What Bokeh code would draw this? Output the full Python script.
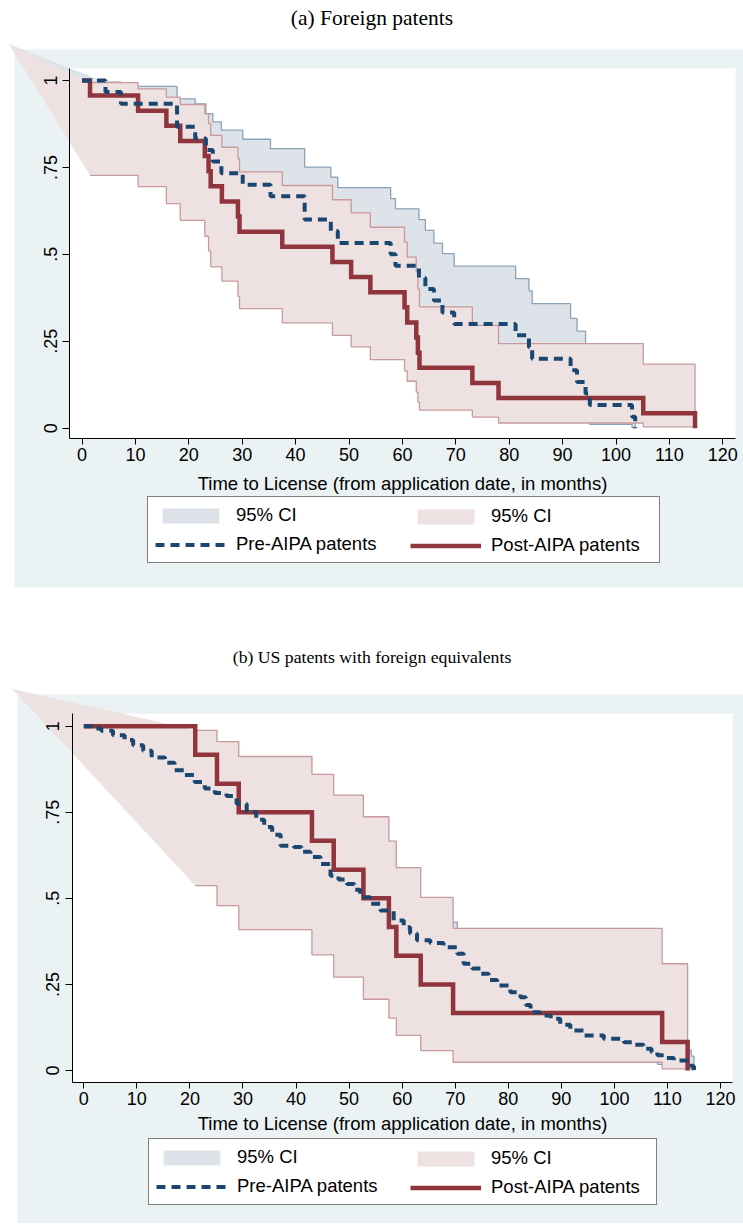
from bokeh.plotting import figure
from bokeh.models import Range1d, LinearAxis, FixedTicker, BoxAnnotation, Legend, LegendItem
from bokeh.layouts import column
from bokeh.embed import file_html
from bokeh.resources import INLINE

# ---------------- texts / ticks ----------------
PANEL_TITLES = ["(a) Foreign patents", "(b) US patents with foreign equivalents"]
X_LABEL = "Time to License (from application date, in months)"
X_TICKS = [0, 10, 20, 30, 40, 50, 60, 70, 80, 90, 100, 110, 120]
Y_TICKS = [0, 0.25, 0.5, 0.75, 1]
Y_TICK_LABELS = ["0", ".25", ".5", ".75", "1"]
LEGEND_LABELS = ["95% CI", "95% CI", "Pre-AIPA patents", "Post-AIPA patents"]

# ---------------- panel (a): foreign patents ----------------
a_pre_t = [0.0, 4.4, 7.3, 17.8, 21.2, 23.2, 24.5, 26.1, 30.1, 35.3, 41.7, 46.6, 47.9, 57.8, 58.7,
           63.1, 64.3, 65.9, 67.5, 69.7, 81.2, 83.7, 84.3, 91.5, 92.7, 94.3, 95.1, 103.0, 103.6]
a_pre_s = [1.0, 0.967, 0.933, 0.867, 0.833, 0.800, 0.767, 0.733, 0.700, 0.667, 0.600, 0.567, 0.533,
           0.500, 0.467, 0.433, 0.400, 0.367, 0.333, 0.300, 0.267, 0.233, 0.200, 0.167, 0.133, 0.100,
           0.067, 0.033, 0.000]
a_pre_hi = [0.995, 0.983, 0.947, 0.933, 0.905, 0.881, 0.857, 0.831, 0.804, 0.751, 0.722, 0.692, 0.660,
            0.631, 0.600, 0.569, 0.532, 0.502, 0.466, 0.430, 0.395, 0.358, 0.316, 0.279, 0.243, 0.210, 0.140]
a_pre_lo = [0.786, 0.759, 0.685, 0.645, 0.608, 0.571, 0.536, 0.503, 0.470, 0.406, 0.375, 0.344, 0.314,
            0.284, 0.255, 0.227, 0.199, 0.173, 0.147, 0.122, 0.099, 0.077, 0.056, 0.038, 0.022, 0.011, 0.002]
a_post_t = [0.0, 1.5, 10.5, 15.8, 18.4, 23.0, 23.7, 24.1, 26.2, 29.2, 29.5, 37.5, 46.9, 50.4, 54.0,
            60.4, 60.9, 62.6, 62.9, 63.2, 73.1, 78.0, 105.1, 114.8]
a_post_s = [1.0, 0.957, 0.913, 0.870, 0.826, 0.783, 0.739, 0.696, 0.652, 0.609, 0.565, 0.522, 0.478,
            0.435, 0.391, 0.348, 0.304, 0.261, 0.217, 0.174, 0.130, 0.087, 0.043, 0.000]
a_post_hi = [0.994, 0.976, 0.952, 0.931, 0.904, 0.876, 0.842, 0.808, 0.775, 0.737, 0.698, 0.657, 0.619,
             0.578, 0.535, 0.492, 0.450, 0.400, 0.349, 0.296, 0.243, 0.184]
a_post_lo = [0.727, 0.695, 0.646, 0.598, 0.552, 0.510, 0.464, 0.423, 0.379, 0.344, 0.303, 0.267, 0.234,
             0.197, 0.165, 0.135, 0.104, 0.075, 0.052, 0.032, 0.015, 0.004]
a_ci_origin = [-13.7, 1.105]   # where the (glitchy) CI areas start in the original

# ---------------- panel (b): US patents with foreign equivalents ----------------
b_pre_t = [0.0, 1.5, 3.3, 5.5, 7.7, 9.3, 11.2, 12.8, 15.3, 17.1, 19.0, 20.9, 22.8, 24.7, 26.9, 28.8,
           30.7, 32.5, 34.0, 35.5, 37.1, 39.6, 41.0, 42.7, 44.6, 46.5, 48.0, 49.6, 51.0, 52.1, 54.0,
           55.9, 58.4, 60.3, 61.5, 62.8, 65.3, 67.8, 70.4, 71.6, 73.2, 74.8, 76.3, 77.9, 80.4, 82.3,
           83.3, 84.2, 86.0, 88.0, 89.8, 91.7, 94.2, 98.0, 101.8, 103.5, 105.5, 107.0, 108.1, 109.5,
           111.2, 113.7, 114.5, 115.0]
b_pre_s = [1.0, 0.993, 0.987, 0.974, 0.960, 0.945, 0.929, 0.909, 0.894, 0.872, 0.858, 0.838, 0.819,
           0.806, 0.797, 0.775, 0.751, 0.728, 0.707, 0.685, 0.653, 0.649, 0.635, 0.620, 0.600, 0.566,
           0.555, 0.542, 0.525, 0.503, 0.484, 0.465, 0.436, 0.416, 0.398, 0.378, 0.370, 0.358, 0.339,
           0.310, 0.296, 0.281, 0.263, 0.247, 0.227, 0.213, 0.190, 0.169, 0.160, 0.150, 0.133, 0.116,
           0.102, 0.092, 0.082, 0.075, 0.063, 0.053, 0.044, 0.036, 0.029, 0.024, 0.012, 0.000]
b_pre_hi = [0.999, 0.996, 0.990, 0.982, 0.972, 0.960, 0.945, 0.933, 0.915, 0.903, 0.886, 0.869, 0.858,
            0.850, 0.830, 0.808, 0.787, 0.768, 0.747, 0.717, 0.713, 0.700, 0.686, 0.667, 0.635, 0.624,
            0.612, 0.595, 0.574, 0.556, 0.537, 0.509, 0.489, 0.471, 0.451, 0.443, 0.431, 0.412, 0.382,
            0.368, 0.352, 0.333, 0.316, 0.295, 0.280, 0.255, 0.232, 0.222, 0.211, 0.192, 0.172, 0.156,
            0.144, 0.132, 0.124, 0.109, 0.097, 0.085, 0.075, 0.066, 0.059, 0.042]
b_pre_lo = [0.972, 0.960, 0.942, 0.924, 0.905, 0.885, 0.860, 0.843, 0.818, 0.802, 0.779, 0.758, 0.744,
            0.734, 0.711, 0.686, 0.662, 0.639, 0.617, 0.584, 0.580, 0.565, 0.550, 0.530, 0.495, 0.484,
            0.471, 0.454, 0.432, 0.413, 0.394, 0.365, 0.346, 0.329, 0.309, 0.302, 0.290, 0.272, 0.244,
            0.231, 0.217, 0.200, 0.185, 0.167, 0.154, 0.133, 0.115, 0.107, 0.099, 0.085, 0.071, 0.060,
            0.052, 0.045, 0.040, 0.031, 0.024, 0.018, 0.013, 0.009, 0.007, 0.002]
b_post_t = [0.0, 21.0, 25.1, 29.2, 43.0, 47.1, 52.7, 57.5, 58.9, 63.5, 69.6, 109.0, 113.8]
b_post_s = [1.0, 0.917, 0.833, 0.750, 0.667, 0.583, 0.500, 0.417, 0.333, 0.250, 0.167, 0.083, 0.000]
b_post_hi = [0.988, 0.955, 0.912, 0.860, 0.800, 0.737, 0.666, 0.589, 0.503, 0.413, 0.310]
b_post_lo = [0.537, 0.479, 0.409, 0.336, 0.271, 0.207, 0.152, 0.102, 0.058, 0.024, 0.005]
b_ci_origin = [-13.5, 1.109]

# ---------------- styles ----------------
BG = "#EAF2F3"
NAVY = "#1A476F"
MAROON = "#90353B"
BLUE_FILL, BLUE_LINE = "#DDE3E9", "#8CA3B7"
PINK_FILL, PINK_LINE = "#EEE1E2", "#C89A9D"
SANS, SERIF = "Liberation Sans", "Liberation Serif"

# page geometry (pixels, page coordinates) of each panel
GEO_A = dict(fig_top=0, fig_bottom=640, mb_top=36, standoff=10, title_size="21.5px",
             x0=81.5, xs=5.34, y0=427.7, ys=347.7,
             region=(14, 49, 743, 587), white=(69.3, 68, 735, 438),
             legend=(147, 563, 403), legend_w=511, label_standoff=9)
GEO_B = dict(fig_top=640, fig_bottom=1223, mb_top=32, standoff=8, title_size="17.7px",
             x0=83.3, xs=5.306, y0=1070.0, ys=344.3,
             region=(17, 694, 743, 1223), white=(71.7, 713.3, 732.3, 1082.3),
             legend=(148, 1205, 403), legend_w=507, label_standoff=5)
PAGE_W = 743


def band(t, lo, hi, origin):
    edges = t[1:]
    ux, uy, lx, ly = [], [], [], []
    for i in range(len(hi)):
        ux += [edges[i], edges[i + 1]]
        uy += [hi[i], hi[i]]
        lx += [edges[i], edges[i + 1]]
        ly += [lo[i], lo[i]]
    ox = ux + lx[::-1]
    oy = uy + ly[::-1]
    return [origin[0]] + ox, [origin[1]] + oy, ox, oy


def make_panel(geo, title, pre, post, origin):
    ft = geo["fig_top"] + geo["mb_top"]
    fb = geo["fig_bottom"]
    tx = lambda px: (px - geo["x0"]) / geo["xs"]
    sy = lambda py: (geo["y0"] - py) / geo["ys"]
    p = figure(frame_width=PAGE_W, frame_height=int(fb - ft),
               x_range=Range1d(tx(0), tx(PAGE_W)), y_range=Range1d(sy(fb), sy(ft)),
               x_axis_type=None, y_axis_type=None, toolbar_location=None,
               output_backend="svg", title=title,
               min_border_left=0, min_border_right=0,
               min_border_top=geo["mb_top"], min_border_bottom=0,
               background_fill_color="white", border_fill_color="white",
               outline_line_color=None)
    p.title.align = "center"
    p.title.vertical_align = "top"
    p.title.text_font = SERIF
    p.title.text_font_style = "normal"
    p.title.text_font_size = geo["title_size"]
    p.title.text_color = "black"
    p.title.standoff = geo["standoff"]

    # graph region (light blue) and plot region (white)
    rl, rt, rr, rb = geo["region"]
    p.add_layout(BoxAnnotation(left=tx(rl), right=tx(rr), top=sy(rt), bottom=sy(rb),
                               fill_color=BG, fill_alpha=1.0, line_color=None,
                               level="underlay"))
    wl, wt, wr, wb = geo["white"]
    p.add_layout(BoxAnnotation(left=tx(wl), right=tx(wr), top=sy(wt), bottom=sy(wb),
                               fill_color="white", fill_alpha=1.0, line_color=None,
                               level="underlay"))

    pre_t, pre_s, pre_lo, pre_hi = pre
    post_t, post_s, post_lo, post_hi = post

    bx, by, box_, boy = band(pre_t, pre_lo, pre_hi, origin)
    blue_fill = p.patch(bx, by, fill_color=BLUE_FILL, fill_alpha=1.0, line_alpha=0)
    p.line(box_, boy, line_color=BLUE_LINE, line_width=1.3)
    px_, py_, pox, poy = band(post_t, post_lo, post_hi, origin)
    pink_fill = p.patch(px_, py_, fill_color=PINK_FILL, fill_alpha=1.0, line_alpha=0)
    p.line(pox, poy, line_color=PINK_LINE, line_width=1.3)

    post_line = p.step(post_t, post_s, mode="after", line_color=MAROON, line_width=4.5,
                       line_join="miter")
    pre_line = p.step(pre_t, pre_s, mode="after", line_color=NAVY, line_width=4,
                      line_dash="9 6")

    xa = LinearAxis(ticker=FixedTicker(ticks=X_TICKS), fixed_location=sy(wb),
                    bounds=(tx(wl), tx(wr)), axis_label=X_LABEL)
    ya = LinearAxis(ticker=FixedTicker(ticks=Y_TICKS), fixed_location=tx(wl),
                    bounds=(sy(wb), sy(wt)),
                    major_label_overrides=dict(zip(Y_TICKS, Y_TICK_LABELS)),
                    major_label_orientation="vertical")
    for ax, tick_out, stand in ((xa, 6, 3), (ya, 7, 6)):
        ax.axis_line_color = "black"
        ax.axis_line_width = 1
        ax.major_tick_line_color = "black"
        ax.major_tick_out = tick_out
        ax.major_tick_in = 0
        ax.minor_tick_line_color = None
        ax.major_label_text_font = SANS
        ax.major_label_text_font_size = "18px"
        ax.major_label_text_color = "black"
        ax.major_label_standoff = stand
    xa.axis_label_text_font = SANS
    xa.axis_label_text_font_size = "18.5px"
    xa.axis_label_text_font_style = "normal"
    xa.axis_label_text_color = "black"
    xa.axis_label_standoff = geo["label_standoff"]
    p.add_layout(xa, "below")
    p.add_layout(ya, "left")

    lg_left, lg_bottom, col2_left = geo["legend"]
    common = dict(label_text_font=SANS, label_text_font_size="18.5px", label_text_color="black",
                  glyph_width=71, glyph_height=19, label_height=19, label_standoff=10,
                  padding=7, spacing=7, margin=0)
    leg1 = Legend(items=[LegendItem(label=LEGEND_LABELS[0], renderers=[blue_fill]),
                         LegendItem(label=LEGEND_LABELS[2], renderers=[pre_line])],
                  location=(lg_left, fb - lg_bottom),
                  label_width=int(geo["legend_w"] - 14 - 81),
                  border_line_color="black", border_line_width=1,
                  background_fill_color="white", background_fill_alpha=1.0, **common)
    leg2 = Legend(items=[LegendItem(label=LEGEND_LABELS[1], renderers=[pink_fill]),
                         LegendItem(label=LEGEND_LABELS[3], renderers=[post_line])],
                  location=(col2_left, fb - lg_bottom), label_width=10,
                  border_line_alpha=0, background_fill_alpha=0, **common)
    p.add_layout(leg1)
    p.add_layout(leg2)
    return p


pa = make_panel(GEO_A, PANEL_TITLES[0], (a_pre_t, a_pre_s, a_pre_lo, a_pre_hi),
                (a_post_t, a_post_s, a_post_lo, a_post_hi), a_ci_origin)
pb = make_panel(GEO_B, PANEL_TITLES[1], (b_pre_t, b_pre_s, b_pre_lo, b_pre_hi),
                (b_post_t, b_post_s, b_post_lo, b_post_hi), b_ci_origin)

layout = column(pa, pb, spacing=0)
open("out.html", "w").write(file_html(layout, INLINE, title="Time to license"))
